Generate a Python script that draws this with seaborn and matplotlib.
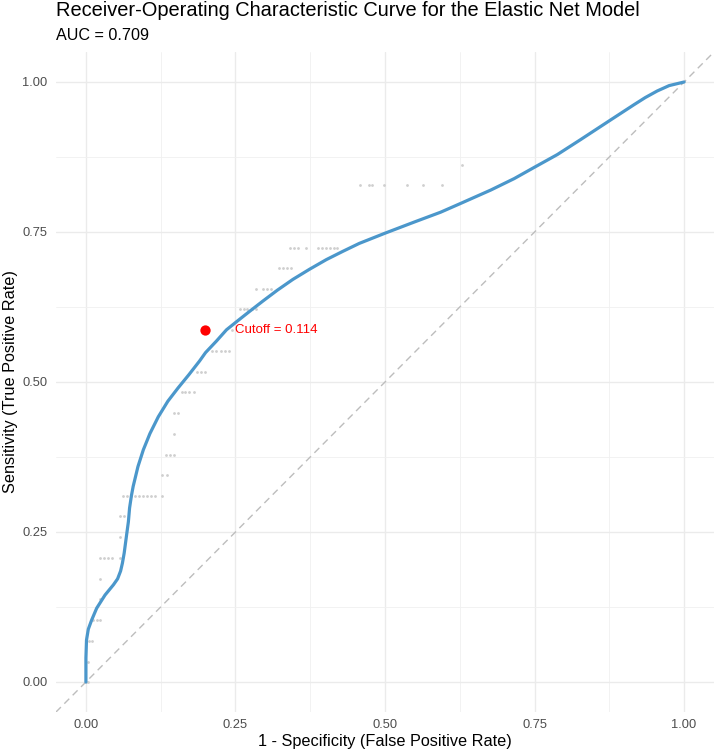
import matplotlib
matplotlib.use("Agg")
import matplotlib.pyplot as plt
import seaborn as sns
import pandas as pd
from matplotlib.ticker import MultipleLocator

# smoothed ROC curve
curve_fpr = [0.0, 0.0, 0.001, 0.004, 0.0095, 0.018, 0.032, 0.046, 0.053, 0.058,
             0.061, 0.064, 0.066, 0.068, 0.071, 0.073, 0.076, 0.079, 0.087, 0.096,
             0.107, 0.121, 0.137, 0.154, 0.172, 0.190, 0.200, 0.218, 0.235, 0.255,
             0.274, 0.296, 0.320, 0.346, 0.374, 0.402, 0.430, 0.457, 0.500, 0.550,
             0.593, 0.625, 0.677, 0.716, 0.750, 0.788, 0.827, 0.876, 0.916, 0.935,
             0.955, 0.975, 1.000]
curve_tpr = [0.0, 0.040, 0.070, 0.088, 0.103, 0.123, 0.145, 0.162, 0.172, 0.185,
             0.198, 0.215, 0.230, 0.245, 0.267, 0.290, 0.310, 0.326, 0.359, 0.387,
             0.414, 0.442, 0.468, 0.490, 0.512, 0.535, 0.549, 0.568, 0.587, 0.603,
             0.618, 0.635, 0.653, 0.671, 0.688, 0.704, 0.718, 0.731, 0.748, 0.767,
             0.783, 0.797, 0.820, 0.839, 0.858, 0.879, 0.904, 0.936, 0.962, 0.974,
             0.985, 0.994, 1.000]

# empirical ROC points (faint grey dots)
emp_fpr = [0.628,
           0.459, 0.473, 0.479, 0.498, 0.537, 0.563, 0.595,
           0.342, 0.348, 0.354, 0.368, 0.388, 0.394, 0.401, 0.408, 0.414, 0.420,
           0.323, 0.329, 0.336, 0.343,
           0.284, 0.296, 0.303, 0.309,
           0.257, 0.264, 0.270, 0.277, 0.284,
           0.244,
           0.211, 0.218, 0.225, 0.232, 0.239,
           0.186, 0.192, 0.199,
           0.160, 0.166, 0.173, 0.180,
           0.147, 0.154,
           0.147,
           0.134, 0.140, 0.147,
           0.128, 0.135,
           0.062, 0.069, 0.076, 0.082, 0.089, 0.096, 0.102, 0.109, 0.115, 0.128,
           0.057, 0.063,
           0.057,
           0.023, 0.030, 0.037, 0.043, 0.057,
           0.023,
           0.023,
           0.012, 0.019, 0.023,
           0.006, 0.010,
           0.004,
           0.0, 0.004]
emp_tpr = [0.862,
           0.828, 0.828, 0.828, 0.828, 0.828, 0.828, 0.828,
           0.724, 0.724, 0.724, 0.724, 0.724, 0.724, 0.724, 0.724, 0.724, 0.724,
           0.690, 0.690, 0.690, 0.690,
           0.655, 0.655, 0.655, 0.655,
           0.621, 0.621, 0.621, 0.621, 0.621,
           0.586,
           0.552, 0.552, 0.552, 0.552, 0.552,
           0.517, 0.517, 0.517,
           0.483, 0.483, 0.483, 0.483,
           0.448, 0.448,
           0.414,
           0.379, 0.379, 0.379,
           0.345, 0.345,
           0.310, 0.310, 0.310, 0.310, 0.310, 0.310, 0.310, 0.310, 0.310, 0.310,
           0.276, 0.276,
           0.241,
           0.207, 0.207, 0.207, 0.207, 0.207,
           0.172,
           0.138,
           0.103, 0.103, 0.103,
           0.069, 0.069,
           0.034,
           0.0, 0.0]

cutoff_fpr = [0.199]
cutoff_tpr = [0.587]
cutoff_label = "Cutoff = 0.114"
auc_label = "AUC = 0.709"

sns.set_theme(style="white")
plt.rcParams['font.family'] = ['Liberation Sans', 'DejaVu Sans']

fig = plt.figure(figsize=(7.14, 7.54), dpi=100)
ax = fig.add_axes([56 / 714, 42 / 754, 658 / 714, 660 / 754])

curve = pd.DataFrame({'fpr': curve_fpr, 'tpr': curve_tpr})
emp = pd.DataFrame({'fpr': emp_fpr, 'tpr': emp_tpr})
cut = pd.DataFrame({'fpr': cutoff_fpr, 'tpr': cutoff_tpr})

# diagonal reference
ax.axline((0, 0), (1, 1), color='#bdbdbd', linestyle=(0, (5, 3.5)), linewidth=1.0, zorder=2)

sns.scatterplot(data=emp, x='fpr', y='tpr', color='#cfcfcf', s=4, linewidth=0, ax=ax, zorder=3)
sns.lineplot(data=curve, x='fpr', y='tpr', sort=False, estimator=None, color='#4B97CB',
             linewidth=2.3, solid_joinstyle='round', solid_capstyle='round', ax=ax, zorder=4)
sns.scatterplot(data=cut, x='fpr', y='tpr', color='red', s=55, linewidth=0, ax=ax, zorder=5)
ax.text(cutoff_fpr[0] + 0.05, cutoff_tpr[0], cutoff_label, color='red', fontsize=9.5,
        va='center', ha='left', zorder=6)

ax.set_xlim(-0.05, 1.05)
ax.set_ylim(-0.05, 1.05)
ax.xaxis.set_major_locator(MultipleLocator(0.25))
ax.yaxis.set_major_locator(MultipleLocator(0.25))
ax.xaxis.set_minor_locator(MultipleLocator(0.125))
ax.yaxis.set_minor_locator(MultipleLocator(0.125))
ax.xaxis.set_major_formatter(lambda v, p: f'{v:.2f}')
ax.yaxis.set_major_formatter(lambda v, p: f'{v:.2f}')
ax.grid(which='major', color='#ebebeb', linewidth=1.0, zorder=0)
ax.grid(which='minor', color='#f0f0f0', linewidth=0.6, zorder=0)
ax.set_axisbelow(True)
for s in ax.spines.values():
    s.set_visible(False)
ax.tick_params(axis='both', which='both', length=0, labelsize=9.3, labelcolor='#4d4d4d')
ax.tick_params(axis='x', pad=5)
ax.tick_params(axis='y', pad=6)

ax.set_xlabel('1 - Specificity (False Positive Rate)', fontsize=11.7, color='black', labelpad=2)
ax.set_ylabel('Sensitivity (True Positive Rate)', fontsize=11.7, color='black', labelpad=3)

fig.text(56 / 714, 1 - 16 / 754, 'Receiver-Operating Characteristic Curve for the Elastic Net Model',
         fontsize=14.4, va='baseline', ha='left', color='black')
fig.text(56 / 714, 1 - 40 / 754, auc_label, fontsize=11.6, va='baseline', ha='left', color='black')

fig.savefig('out.png', dpi=100)
